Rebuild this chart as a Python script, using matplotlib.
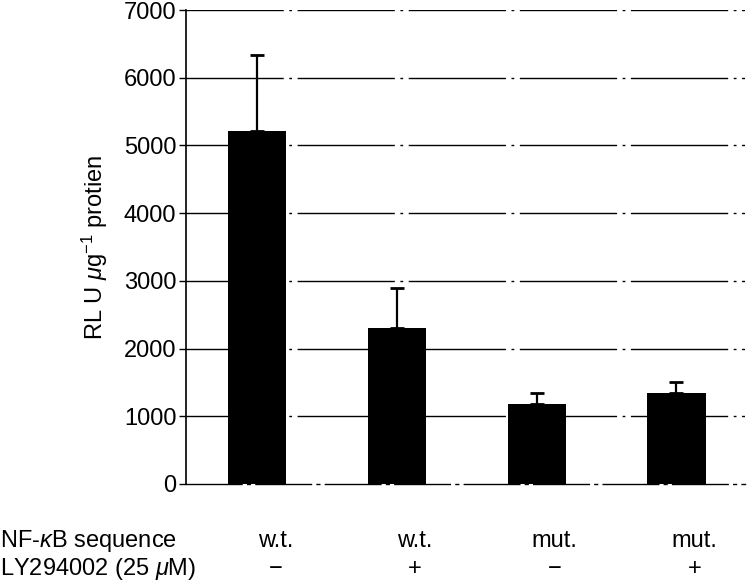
import numpy as np
import matplotlib
matplotlib.use("Agg")
import matplotlib.pyplot as plt
import matplotlib.transforms as mtransforms

plt.rcParams["font.family"] = ["Liberation Sans", "DejaVu Sans"]
plt.rcParams["mathtext.fontset"] = "custom"
plt.rcParams["mathtext.rm"] = "Liberation Sans"
plt.rcParams["mathtext.it"] = "Liberation Sans:italic"

# data
sequence = ["w.t.", "w.t.", "mut.", "mut."]
inhibitor = ["\u2212", "+", "\u2212", "+"]
rlu = [5220, 2310, 1180, 1350]
rlu_err = [1120, 590, 160, 150]
yticks = [0, 1000, 2000, 3000, 4000, 5000, 6000, 7000]

fig = plt.figure(figsize=(7.48, 5.82), dpi=100)
ax = fig.add_axes([0.2487, 0.1684, 0.7473, 0.8144])

x = np.arange(len(rlu))
ax.set_xlim(-0.508, 3.49)
ax.set_ylim(0, 7000)

for t in yticks[1:]:
    ax.axhline(t, color="black", lw=1.0, ls=(0, (70, 4, 2, 4)), zorder=1)

ax.bar(x, rlu, width=0.415, color="black", zorder=3)
ax.errorbar(x, rlu, yerr=[np.zeros(len(rlu)), rlu_err], fmt="none",
            ecolor="black", elinewidth=1.6, capsize=5, capthick=2, zorder=2)

for s in ["top", "right"]:
    ax.spines[s].set_visible(False)
ax.spines["bottom"].set_linestyle((0, (40, 4, 2, 4)))
ax.spines["bottom"].set_linewidth(1.0)
ax.spines["left"].set_linewidth(1.2)

ax.set_yticks(yticks)
ax.set_yticklabels([str(t) for t in yticks], fontsize=17)
ax.tick_params(axis="y", direction="out", length=5, width=1, pad=2)
ax.set_xticks([])

ax.set_ylabel(r"RL U $\mu$g$^{\mathregular{-1}}$ protien", fontsize=17, labelpad=10)

# condition table under the bars
trans = mtransforms.blended_transform_factory(ax.transData, fig.transFigure)
for i in range(len(rlu)):
    ax.text(x[i] + 0.13, 1 - 541 / 582, sequence[i], transform=trans,
            ha="center", va="center", fontsize=17)
    ax.text(x[i] + 0.13, 1 - 569 / 582, inhibitor[i], transform=trans,
            ha="center", va="center", fontsize=17)

fig.text(0.0, 1 - 541 / 582, r"NF-$\kappa$B sequence", ha="left", va="center", fontsize=17)
fig.text(0.0, 1 - 569 / 582, r"LY294002 (25 $\mu$M)", ha="left", va="center", fontsize=17)

fig.savefig("out.png", dpi=100)
